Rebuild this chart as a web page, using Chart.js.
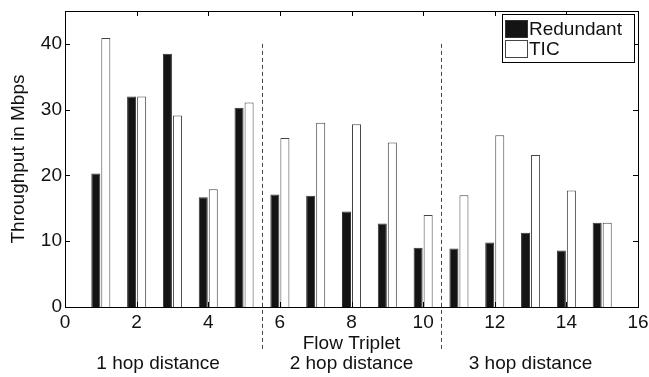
<!DOCTYPE html>
<html>
<head>
<meta charset="utf-8">
<script src="https://cdn.jsdelivr.net/npm/chart.js@4.4.1/dist/chart.umd.min.js"></script>
<style>
  html, body { margin: 0; padding: 0; background: #fff; }
  #wrap { width: 649px; height: 377px; }
</style>
</head>
<body>
<div id="wrap"><canvas id="grafico" width="649" height="377"></canvas></div>
<script>
// Datos
const flujos = [1, 2, 3, 4, 5, 6, 7, 8, 9, 10, 11, 12, 13, 14, 15];
const redundant = [20.3, 32.0, 38.5, 16.7, 30.3, 17.1, 16.9, 14.5, 12.7, 9.0, 8.9, 9.8, 11.3, 8.6, 12.8];
const tic = [40.9, 32.0, 29.1, 17.9, 31.1, 25.7, 28.0, 27.8, 25.0, 14.0, 17.0, 26.1, 23.1, 17.7, 12.8];
const separadores = [5.5, 10.5];
const grupos = [
  { x: 2.6, texto: "1 hop distance" },
  { x: 8, texto: "2 hop distance" },
  { x: 13, texto: "3 hop distance" }
];

const fuente = "'Liberation Sans', Arial, Helvetica, sans-serif";
const tamFuente = 19;

// Plugin: caja, ticks hacia adentro, separadores, etiquetas de grupo y leyenda
const decoracion = {
  id: "decoracion",
  afterDatasetsDraw(chart) {
    const { ctx, chartArea: a, scales: { x, y } } = chart;
    ctx.save();

    // separadores punteados
    ctx.strokeStyle = "#444";
    ctx.lineWidth = 1;
    ctx.setLineDash([4, 3]);
    separadores.forEach(v => {
      const px = Math.round(x.getPixelForValue(v)) + 0.5;
      ctx.beginPath();
      ctx.moveTo(px, y.getPixelForValue(40));
      ctx.lineTo(px, a.bottom + 42);
      ctx.stroke();
    });
    ctx.setLineDash([]);

    // caja
    ctx.strokeStyle = "#000";
    ctx.strokeRect(Math.round(a.left) + 0.5, Math.round(a.top) + 0.5,
      Math.round(a.right - a.left), Math.round(a.bottom - a.top));

    // ticks hacia adentro
    const largo = 5;
    ctx.beginPath();
    x.ticks.forEach(t => {
      const px = Math.round(x.getPixelForValue(t.value)) + 0.5;
      ctx.moveTo(px, a.bottom); ctx.lineTo(px, a.bottom - largo);
      ctx.moveTo(px, a.top); ctx.lineTo(px, a.top + largo);
    });
    y.ticks.forEach(t => {
      const py = Math.round(y.getPixelForValue(t.value)) + 0.5;
      ctx.moveTo(a.left, py); ctx.lineTo(a.left + largo, py);
      ctx.moveTo(a.right, py); ctx.lineTo(a.right - largo, py);
    });
    ctx.stroke();

    // etiquetas de grupo
    ctx.fillStyle = "#111";
    ctx.font = tamFuente + "px " + fuente;
    ctx.textAlign = "center";
    ctx.textBaseline = "alphabetic";
    grupos.forEach(g => {
      ctx.fillText(g.texto, x.getPixelForValue(g.x), a.bottom + 62);
    });

    // leyenda
    const lx = 502, ly = 14, lw = 132, lh = 48;
    ctx.fillStyle = "#fff";
    ctx.fillRect(lx, ly, lw, lh);
    ctx.strokeStyle = "#000";
    ctx.strokeRect(lx + 0.5, ly + 0.5, lw, lh);
    chart.data.datasets.forEach((ds, i) => {
      const sy = ly + 6 + i * 20;
      ctx.fillStyle = ds.backgroundColor;
      ctx.fillRect(lx + 3.5, sy + 0.5, 22, 17);
      ctx.strokeStyle = ds.borderColor;
      ctx.strokeRect(lx + 3.5, sy + 0.5, 22, 17);
      ctx.fillStyle = "#111";
      ctx.textAlign = "left";
      ctx.fillText(ds.label, lx + 27, sy + 15);
    });

    ctx.restore();
  }
};

const ctx = document.getElementById("grafico").getContext("2d");
const chart = new Chart(ctx, {
  type: "bar",
  data: {
    datasets: [
      {
        label: "Redundant",
        data: flujos.map((f, i) => ({ x: f, y: redundant[i] })),
        backgroundColor: "#141414",
        borderColor: "#333",
        borderWidth: 1
      },
      {
        label: "TIC",
        data: flujos.map((f, i) => ({ x: f, y: tic[i] })),
        backgroundColor: "#ffffff",
        borderColor: "#444",
        borderWidth: 1
      }
    ]
  },
  options: {
    responsive: false,
    animation: false,
    categoryPercentage: 0.56,
    barPercentage: 0.9,
    layout: { padding: { top: 11, right: 11, bottom: 0, left: 0 } },
    plugins: {
      legend: { display: false },
      tooltip: { enabled: false }
    },
    scales: {
      x: {
        type: "linear",
        min: 0,
        max: 16,
        offset: false,
        grid: { display: false, drawTicks: false },
        border: { display: true, color: "#000", width: 1 },
        ticks: {
          stepSize: 2,
          padding: 4,
          color: "#111",
          font: { family: fuente, size: tamFuente }
        },
        title: {
          display: true,
          text: "Flow Triplet",
          color: "#111",
          font: { family: fuente, size: tamFuente },
          padding: { top: 0, bottom: 22 }
        },
        afterFit: (s) => { s.height = 70; s.paddingLeft = 0; s.paddingRight = 0; }
      },
      y: {
        min: 0,
        max: 45,
        grid: { display: false, drawTicks: false },
        border: { display: true, color: "#000", width: 1 },
        ticks: {
          stepSize: 10,
          includeBounds: false,
          padding: 3,
          color: "#111",
          font: { family: fuente, size: tamFuente }
        },
        title: {
          display: true,
          text: "Throughput in Mbps",
          color: "#111",
          font: { family: fuente, size: tamFuente },
          padding: { top: 7, bottom: 0 }
        },
        afterFit: (s) => { s.width = 65; s.paddingTop = 0; s.paddingBottom = 0; }
      }
    }
  },
  plugins: [decoracion]
});
</script>
</body>
</html>
